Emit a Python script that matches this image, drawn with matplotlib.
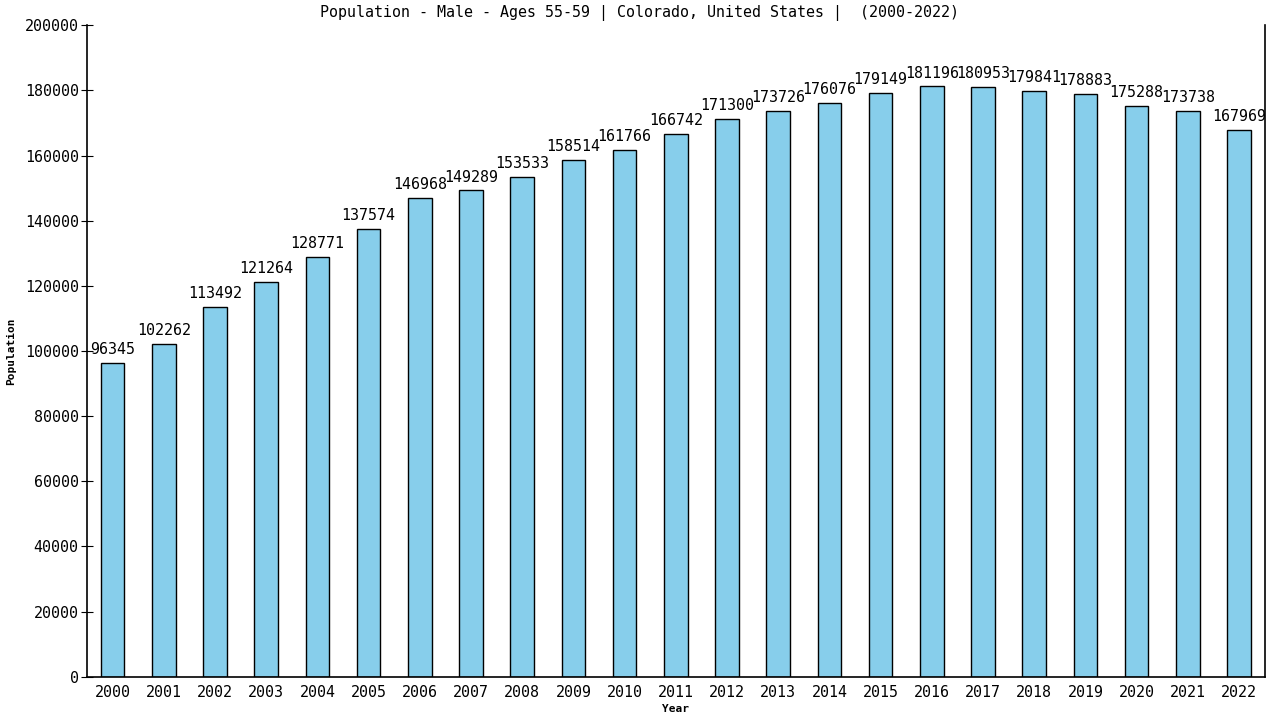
import matplotlib
matplotlib.use("Agg")
import matplotlib.pyplot as plt
import numpy as np

years = [str(y) for y in range(2000, 2023)]
population = [96345, 102262, 113492, 121264, 128771, 137574, 146968, 149289,
              153533, 158514, 161766, 166742, 171300, 173726, 176076, 179149,
              181196, 180953, 179841, 178883, 175288, 173738, 167969]

plt.rcParams['font.family'] = ['DejaVu Sans Mono']

fig = plt.figure(figsize=(12.8, 7.2), dpi=100)
ax = fig.add_axes([0.068, 0.06, 0.920, 0.905])

x = np.arange(len(years))
ax.bar(x, population, width=0.46, color='#87CEEB', edgecolor='black', linewidth=1)

for xi, v in zip(x, population):
    ax.text(xi, v + 1800, str(v), ha='center', va='bottom', fontsize=10.8)

ax.set_xlim(-0.5, len(years) - 0.5)
ax.set_ylim(0, 200000)
ax.set_yticks(np.arange(0, 200001, 20000))
ax.set_xticks(x)
ax.set_xticklabels(years)
ax.tick_params(axis='y', direction='inout', length=8, labelsize=10.8, pad=2)
ax.tick_params(axis='x', length=0, labelsize=10.8, pad=6)

ax.spines['top'].set_visible(False)
for s in ['left', 'right', 'bottom']:
    ax.spines[s].set_linewidth(1.2)

ax.set_xlabel('Year', fontsize=8, fontweight='bold', labelpad=3)
ax.set_ylabel('Population', fontsize=8, fontweight='bold', labelpad=6)
fig.text(0.5, 0.982, 'Population - Male - Ages 55-59 | Colorado, United States |  (2000-2022)',
         ha='center', va='center', fontsize=10.8)

fig.savefig('out.png', dpi=100)
